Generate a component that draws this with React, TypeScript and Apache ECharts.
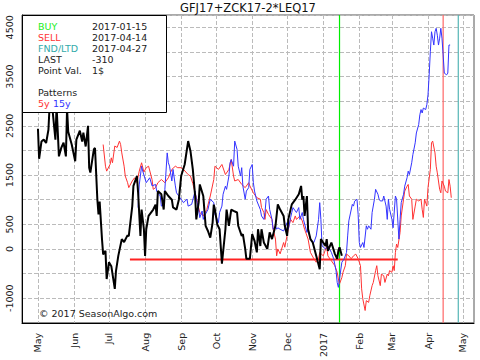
import React, { useEffect, useRef } from "react";
import * as echarts from "echarts";

// ---------- data ----------
const chartTitle = "GFJ17+ZCK17-2*LEQ17";
const baseDate = "2016-05-01"; // day offsets below are counted from this date

const blackDays = [0,1,3,5,7,9,10,12,15,16,18,20,22,24,25,26,29,32,33,36,38,39,41,43,44,45,48,49,51,52,53,55,56,58,59,61,63,66,67,69,72,74,77,78,81,82,85,86,88,89,91,92,93,95,99,101,102,103,106,108,109,112,115,116,119,121,123,126,129,131,133,135,136,138,139,142,144,146,148,150,151,152,154,156,158,161,162,164,166,168,171,172,175,176,178,179,182,184,186,188,189,191,192,194,197,199,201,204,206,208,211,212,214,215,218,221,224,226,227,228,229,231,232,234,236,239,242,243,247,248,249,252,255,257,258,259,261];
const blackValues = [2440,1830,2180,2220,2150,2420,2900,2950,2220,2900,1880,2050,2160,1880,2850,2380,2120,1780,2220,2400,2180,2360,2080,2500,1650,1550,2020,2050,1010,700,960,200,-110,-40,-610,-270,-350,-810,-450,-140,200,140,280,260,870,1280,1480,1150,265,800,400,-140,400,670,800,900,670,1175,1110,800,1175,1075,1000,845,800,1000,1480,1715,2190,1985,1615,1075,600,940,1310,1075,470,365,230,535,900,800,500,400,-300,400,800,470,800,775,740,470,265,300,0,-200,-200,300,165,-70,400,60,400,130,0,335,200,470,905,800,670,470,265,600,905,1000,1110,1280,1000,1075,670,1075,400,200,130,-140,-410,200,60,200,-40,130,-100,-200,-40,35,-140];

const red5yDays = [56,58,59,62,63,64,66,68,70,71,72,74,75,77,78,81,83,85,87,89,91,93,95,98,99,101,103,106,109,112,115,118,120,123,125,129,131,133,136,139,142,145,148,151,152,155,158,161,164,166,168,169,172,175,178,181,182,185,188,191,192,194,195,196,198,201,202,204,205,206,208,211,212,215,217,219,221,222,225,227,229,232,234,237,239,241,242,245,248,249,252,255,257,258,259,261,262,264,265,267,269,271,273,275,277,278,279,281,282,284,285,287,288,290,291,292,294,295,297,298,300,301,302,304,305,306,307,308,309,311,312,314,315,317,318,319,321,322,324,325,327,329,330,331,332,334,335,337,338,339,341,342,343,345,346,347,349,350,352,353,354,355];
const red5yValues = [2120,1680,1580,1720,1850,1750,2090,2060,2190,2120,1950,1680,1480,1345,1245,1380,1445,1345,1580,1750,1560,1650,1680,1410,1210,1245,1345,1410,1345,1445,1615,1680,1650,1650,1615,1510,1480,1330,1040,740,670,800,1075,1410,1680,1615,1715,1510,1615,1815,1480,1380,1410,1310,1245,1345,1280,1140,1040,1010,840,740,600,800,700,600,400,200,-140,0,-100,130,35,400,600,535,670,600,670,570,400,200,-70,-200,-270,-200,-70,-140,60,-140,-240,-340,-475,-610,-710,-580,-475,-340,-105,-140,-200,-140,-105,-200,-340,-810,-1015,-1250,-1050,-1085,-950,-745,-680,-440,-340,-545,-745,-510,-545,-680,-510,-545,-440,-475,-340,-440,-70,100,30,335,670,1010,1175,1275,1310,1075,1010,600,870,1010,975,1010,805,640,1010,870,1245,1615,2155,2190,1950,1680,1545,1210,1140,1380,1275,1175,1140,1410,1275,1040];

const blue15yDays = [86,87,89,90,93,96,98,101,102,105,106,108,109,111,112,113,115,116,118,119,122,125,128,129,132,135,136,138,139,141,142,143,146,148,151,152,154,155,156,158,159,161,162,164,165,166,168,169,171,172,174,175,176,178,179,181,182,184,185,186,188,191,192,194,195,196,198,199,201,202,204,205,206,208,211,214,215,217,218,219,222,224,225,227,228,231,232,234,237,239,241,242,243,244,247,249,252,254,256,257,258,259,261,263,265,266,267,270,271,272,274,275,276,277,279,280,282,283,284,286,287,289,290,292,293,294,296,297,299,300,301,302,304,305,307,308,310,311,312,314,315,317,318,319,321,322,324,325,327,328,329,330,331,333,334,335,336,337,338,339,340,341,342,343,344,345,346,347,348,349,351,352,353,354];
const blue15yValues = [840,1300,1680,1580,1345,1445,1280,1310,1175,1075,870,905,1210,1950,1750,1680,1380,1615,1280,1140,1040,940,1010,870,905,1175,1010,800,635,770,600,670,800,1010,940,700,600,535,740,870,1110,1275,1210,1480,1750,1815,1680,2190,2020,1680,1480,1650,1275,1010,1175,1245,1615,1715,1345,1175,975,800,670,600,740,1010,1075,800,600,400,470,400,430,400,365,535,400,635,740,840,740,840,600,740,600,335,400,200,130,265,600,940,600,60,0,60,-70,-200,-440,-680,-780,-610,-270,-200,-70,265,570,905,870,970,1010,700,130,30,130,30,470,400,470,400,740,1010,1210,1110,1010,975,975,1075,870,600,1010,805,600,430,1075,1010,200,600,940,1110,1275,1445,1580,1510,1750,1915,2155,2355,2525,2725,2830,2760,2860,2830,2930,3130,3535,4005,4410,4280,4140,4410,4480,4340,4140,4280,4480,4280,3940,3570,3535,3570,4140,4140];

const monthTicks = ["2016-05-01","2016-06-01","2016-07-01","2016-08-01","2016-09-01","2016-10-01","2016-11-01","2016-12-01","2017-01-01","2017-02-01","2017-03-01","2017-04-01","2017-05-01"];
const monthNames = ["Jan","Feb","Mar","Apr","May","Jun","Jul","Aug","Sep","Oct","Nov","Dec"];
const yLabelValues = [-1000, 0, 500, 1500, 2500, 3500, 4500];

const buyDate = "2017-01-15";
const sellDate = "2017-04-14";
const fndDate = "2017-04-27";
const levelLineStart = "2016-07-19";
const levelLineEnd = "2017-03-06";
const levelLineValue = -215;

const infoLabels = ["BUY", "SELL", "FND/LTD", "LAST", "Point Val."];
const infoValues = ["2017-01-15", "2017-04-14", "2017-04-27", "-310", "1$"];
const infoColors = ["#22ee22", "#ff3333", "#33aaaa", "#222222", "#222222"];
const patternLabels = ["5y", "15y"];
const copyrightText = "© 2017 SeasonAlgo.com";

// ---------- helpers ----------
const DAY = 86400000;
const base = Date.parse(baseDate);
const toSeries = (days: number[], vals: number[]) => days.map((d, i) => [base + d * DAY, vals[i]]);
const Y_MIN = -1500;
const Y_MAX = 4750;

const FONT = "DejaVu Sans";

const vLine = (date: string, color: string) => ({
  type: "line",
  data: [
    [Date.parse(date), Y_MIN],
    [Date.parse(date), Y_MAX],
  ],
  showSymbol: false,
  silent: true,
  itemStyle: { color },
  lineStyle: { color, width: 1.2, opacity: 1 },
  z: 1,
});

export default function App() {
  const ref = useRef<HTMLDivElement>(null);
  useEffect(() => {
    if (!ref.current) return;
    const chart = echarts.init(ref.current, null, { renderer: "svg" });
    const tickTs = monthTicks.map((s) => Date.parse(s));
    const legendText = (text: string, x: number, y: number, fill: string, align = "left") => ({
      type: "text",
      x,
      y,
      z: 101,
      silent: true,
      style: { text, fill, fontSize: 9.5, fontFamily: FONT, align, verticalAlign: "middle" },
    });
    const elements: any[] = [
      {
        type: "rect",
        z: 100,
        silent: true,
        shape: { x: 22.5, y: 15.5, width: 144, height: 97 },
        style: { fill: "#ffffff", stroke: "#000000", lineWidth: 1 },
      },
    ];
    infoLabels.forEach((lab, i) => {
      const y = 26.5 + i * 11.1;
      elements.push(legendText(lab, 38, y, infoColors[i]));
      elements.push(legendText(infoValues[i], 92, y, "#222222"));
    });
    elements.push(legendText("Patterns", 38, 92, "#222222"));
    elements.push(legendText(patternLabels[0], 38, 103, "#ff3333"));
    elements.push(legendText(patternLabels[1], 53, 103, "#3333ff"));
    elements.push({
      type: "text",
      x: 248,
      y: 8,
      z: 101,
      style: { text: chartTitle, fill: "#111", fontSize: 11.5, fontFamily: FONT, align: "center", verticalAlign: "middle" },
    });
    elements.push({
      type: "text",
      x: 39,
      y: 313,
      z: 101,
      style: { text: copyrightText, fill: "#222", fontSize: 9.5, fontFamily: FONT, align: "left", verticalAlign: "middle" },
    });

    chart.setOption({
      animation: false,
      backgroundColor: "#ffffff",
      grid: { left: 22, top: 15, right: 6, bottom: 36, show: true, borderColor: "#555", borderWidth: 1 },
      xAxis: {
        type: "value",
        min: base - 13.7 * DAY,
        max: base + 374.5 * DAY,
        axisLine: { show: true, onZero: false, lineStyle: { color: "#000", width: 1 } },
        axisTick: { show: false, customValues: tickTs },
        axisLabel: {
          customValues: tickTs,
          rotate: 90,
          margin: 10,
          fontSize: 9.5,
          fontFamily: FONT,
          color: "#222",
          formatter: (v: number) => {
            const d = new Date(v);
            const m = d.getUTCMonth();
            return m === 0 ? String(d.getUTCFullYear()) : monthNames[m];
          },
        },
        splitLine: { show: true, lineStyle: { color: "#bbbbbb", type: "dashed", width: 1 } },
      },
      yAxis: {
        type: "value",
        min: Y_MIN,
        max: Y_MAX,
        interval: 500,
        axisLine: { show: true, onZero: false, lineStyle: { color: "#000", width: 1 } },
        axisTick: { show: false },
        axisLabel: {
          rotate: 90,
          margin: 8,
          fontSize: 9.5,
          fontFamily: FONT,
          color: "#222",
          showMaxLabel: false,
          formatter: (v: number) => (yLabelValues.includes(v) ? String(v) : ""),
        },
        splitLine: { show: true, lineStyle: { color: "#bbbbbb", type: "dashed", width: 1 } },
      },
      graphic: { elements },
      series: [
        vLine(buyDate, "#00ee00"),
        vLine(sellDate, "#ff6666"),
        vLine(fndDate, "#55b5b5"),
        {
          type: "line",
          data: [
            [Date.parse(levelLineStart), levelLineValue],
            [Date.parse(levelLineEnd), levelLineValue],
          ],
          showSymbol: false,
          silent: true,
          lineStyle: { color: "#ff2222", width: 2 },
        },
        {
          name: "5y",
          type: "line",
          data: toSeries(red5yDays, red5yValues),
          showSymbol: false,
          lineStyle: { color: "#ff3333", width: 1 },
        },
        {
          name: "15y",
          type: "line",
          data: toSeries(blue15yDays, blue15yValues),
          showSymbol: false,
          lineStyle: { color: "#3333ff", width: 1 },
        },
        {
          name: "current",
          type: "line",
          data: toSeries(blackDays, blackValues),
          showSymbol: false,
          lineStyle: { color: "#000000", width: 2 },
        },
      ],
    });
    return () => chart.dispose();
  }, []);
  return <div ref={ref} style={{ position: "fixed", left: 0, top: 0, width: 480, height: 360 }} />;
}
